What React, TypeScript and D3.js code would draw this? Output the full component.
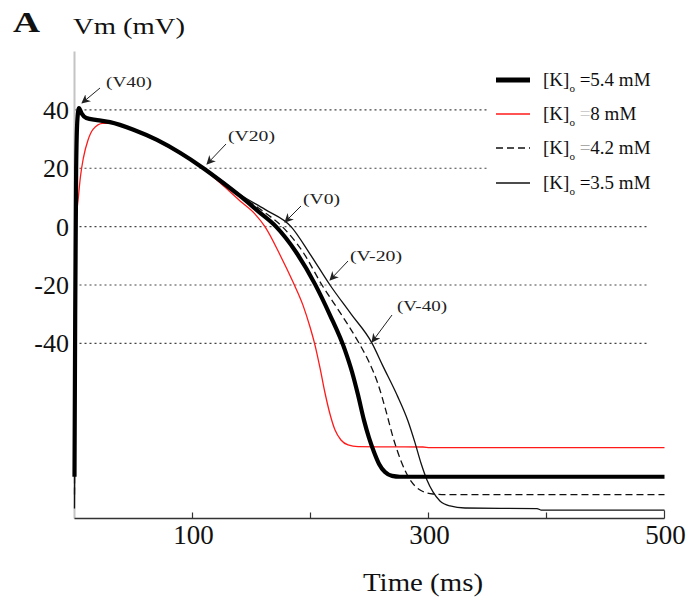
import React from "react";
import * as d3 from "d3";

// ---- data (time in ms, membrane potential in mV) ----
const t54 = [0, 0.6, 1.4, 2.5, 3.8, 6, 10, 19.1, 30.1, 50, 69.9, 89.4, 108.9, 125, 140.3, 155.5, 170.8, 187.7, 203.8, 216.5, 229.2, 235.2, 240.3, 245.3, 249.6, 253.8, 258.1, 263.1, 269.1, 275.8, 300, 500];
const v54 = [-85.7, -30, 20, 37, 40.6, 38.8, 37.2, 36.5, 35.8, 33.2, 29.7, 25.3, 20.1, 15.3, 10.5, 5.3, 0, -8.7, -19.7, -30.3, -42.3, -49.8, -57.7, -66.3, -72.4, -77.2, -81.3, -84.1, -85.4, -85.7, -85.7, -85.7];

const t8 = [0, 0.4, 1.5, 3.2, 5, 7.5, 11.4, 15.7, 24, 33, 50, 69.9, 89.4, 108.9, 123.3, 140.3, 153, 161.4, 174.2, 185.2, 193.6, 199.6, 203.8, 208.1, 212.3, 216.5, 220.8, 225.8, 231.8, 240.3, 295.3, 301.3, 500];
const v8 = [-75.5, -17.6, 2, 9.7, 17, 23.5, 29.6, 33.3, 35.4, 35.4, 33, 29.4, 25, 19.8, 15, 8.8, 4.3, 0, -9.7, -19, -26.9, -34.4, -40.6, -48.5, -57, -64.2, -69.7, -73.1, -74.8, -75.4, -75.5, -75.7, -75.7];

const t42 = [0, 0.6, 1.4, 2.5, 3.8, 6, 10, 19.1, 30.1, 50, 69.9, 89.4, 108.9, 125, 140.3, 159, 176, 193.6, 209.7, 225.8, 241.1, 249.6, 257.2, 264, 269.9, 276.7, 285.2, 293.6, 303.8, 314.8, 500];
const v42 = [-91.8, -30, 20, 37, 40.6, 38.8, 37.2, 36.5, 35.8, 33.2, 29.7, 25.3, 20.2, 15.5, 10.7, 5.5, 0, -8.7, -20, -29.9, -39.9, -46.4, -53.9, -63.2, -72.1, -80.3, -87.2, -90.4, -91.6, -91.8, -91.8];

const t35 = [0, 0.6, 1.4, 2.5, 3.8, 6, 10, 19.1, 30.1, 50, 69.9, 89.4, 108.9, 125, 140.3, 161.4, 183.5, 199.6, 216.5, 234.3, 252.1, 261.4, 273.3, 282.6, 288.6, 293.6, 298.7, 303.8, 309.7, 318.2, 330.9, 392, 395.3, 500];
const v35 = [-96.6, -30, 20, 37, 40.6, 38.8, 37.2, 36.5, 35.8, 33.2, 29.7, 25.3, 20.3, 15.7, 11, 5.9, 0, -9.4, -20, -29.9, -39.9, -47.8, -57.7, -66.6, -74.1, -81, -86.8, -90.9, -94, -95.7, -96.4, -96.6, -97.1, -97.1];

const yTicks = [40, 20, 0, -20, -40];
const xLabelTicks = [100, 300, 500];
const xMinorTicks = [100, 200, 300, 400];

const legendValues = ["5.4", "8", "4.2", "3.5"];
const annotLabels = ["(V40)", "(V20)", "(V0)", "(V-20)", "(V-40)"];

const W = 694;
const H = 603;

export default function App() {
  const x = d3.scaleLinear().domain([0, 500]).range([74.5, 664.5]);
  const y = d3.scaleLinear().domain([-100, 60]).range([518.5, 51.5]);

  const line = d3
    .line<[number, number]>()
    .x((d) => x(d[0]))
    .y((d) => y(d[1]))
    .curve(d3.curveMonotoneX);

  const mk = (ts: number[], vs: number[]) => line(ts.map((t, i) => [t, vs[i]] as [number, number])) || "";

  const font = "'Liberation Serif', 'Times New Roman', serif";

  const series = [
    { d: mk(t8, v8), stroke: "#ff1a1a", w: 1.3, dash: undefined as string | undefined },
    { d: mk(t35, v35), stroke: "#111", w: 1.3, dash: undefined },
    { d: mk(t42, v42), stroke: "#111", w: 1.3, dash: "7,4" },
    { d: mk(t54, v54), stroke: "#000", w: 4.2, dash: undefined },
  ];

  const annots = [
    { tx: 106, ty: 87, len: 46, x1: 100, y1: 88, x2: 82, y2: 103 },
    { tx: 228, ty: 141, len: 47, x1: 226, y1: 144, x2: 207, y2: 164 },
    { tx: 303, ty: 204, len: 37, x1: 301, y1: 206, x2: 285, y2: 222 },
    { tx: 350, ty: 261, len: 52, x1: 348, y1: 261, x2: 330, y2: 280 },
    { tx: 397, ty: 311, len: 50, x1: 392, y1: 315, x2: 372, y2: 342 },
  ];

  const legendY = [80, 114, 148, 183];
  const legendStyles = [
    { stroke: "#000", w: 5, dash: undefined as string | undefined },
    { stroke: "#ff1a1a", w: 1.3, dash: undefined },
    { stroke: "#111", w: 1.3, dash: "7,4" },
    { stroke: "#111", w: 1.3, dash: undefined },
  ];
  const eqColor = ["#000", "#ccc", "#aaa", "#000"];

  return (
    <svg
      width={W}
      height={H}
      viewBox={`0 0 ${W} ${H}`}
      style={{ position: "absolute", left: 0, top: 0, background: "#fff" }}
      fontFamily={font}
    >
      <defs>
        <marker id="arr" viewBox="0 0 10 10" refX="9" refY="5" markerWidth="9" markerHeight="9" orient="auto-start-reverse" markerUnits="userSpaceOnUse">
          <path d="M0,0 L10,5 L0,10 L3,5 Z" fill="#222" />
        </marker>
      </defs>

      {/* gridlines */}
      {yTicks.map((v) => (
        <line key={v} x1={x(0)} x2={648} y1={y(v)} y2={y(v)} stroke="#444" strokeWidth={1.2} strokeDasharray="2,3" />
      ))}

      {/* legend background hides gridlines */}
      <rect x={487} y={62} width={180} height={138} fill="#fff" />

      {/* axes */}
      <line x1={x(0)} x2={x(0)} y1={y(60)} y2={y(-100)} stroke="#c4c4c4" strokeWidth={2} />
      <line x1={x(0)} x2={x(500)} y1={y(-100)} y2={y(-100)} stroke="#333" strokeWidth={1.5} />
      {xMinorTicks.map((t) => (
        <line key={t} x1={x(t)} x2={x(t)} y1={y(-100)} y2={y(-100) - 6} stroke="#333" strokeWidth={1.2} />
      ))}
      <line x1={x(500)} x2={x(500)} y1={y(-100)} y2={y(-100) - 8} stroke="#333" strokeWidth={1.2} />

      {/* curves */}
      {series.map((s, i) => (
        <path key={i} d={s.d} fill="none" stroke={s.stroke} strokeWidth={s.w} strokeDasharray={s.dash} strokeLinejoin="round" />
      ))}

      {/* y tick labels */}
      {yTicks.map((v) => (
        <text key={v} x={69} y={y(v)} dy="0.35em" fontSize={26} textAnchor="end" fill="#111">
          {v}
        </text>
      ))}
      {/* x tick labels */}
      {xLabelTicks.map((t) => (
        <text key={t} x={x(t) + 1} y={544} fontSize={27} textAnchor="middle" fill="#111">
          {t}
        </text>
      ))}

      {/* titles */}
      <text x={13} y={32} fontSize={30} fontWeight="bold" textLength={27} lengthAdjust="spacingAndGlyphs" fill="#111">A</text>
      <text x={73} y={34} fontSize={24} textLength={112} lengthAdjust="spacingAndGlyphs" fill="#111">Vm (mV)</text>
      <text x={363} y={591} fontSize={25} textLength={120} lengthAdjust="spacingAndGlyphs" fill="#111">Time (ms)</text>

      {/* annotations */}
      {annots.map((a, i) => (
        <g key={i}>
          <text x={a.tx} y={a.ty} fontSize={15} textLength={a.len} lengthAdjust="spacingAndGlyphs" fill="#222">
            {annotLabels[i]}
          </text>
          <line x1={a.x1} y1={a.y1} x2={a.x2} y2={a.y2} stroke="#222" strokeWidth={1} markerEnd="url(#arr)" />
        </g>
      ))}

      {/* legend */}
      {legendValues.map((val, i) => {
        const ly = legendY[i];
        const st = legendStyles[i];
        return (
          <g key={val}>
            <line x1={496} x2={530} y1={ly} y2={ly} stroke={st.stroke} strokeWidth={st.w} strokeDasharray={st.dash} />
            <text x={543} y={ly + 6} fontSize={19} fill="#111">
              <tspan>[K]</tspan>
              <tspan fontSize={11} dy={6}>o</tspan>
              <tspan dy={-6} fill={eqColor[i]}> =</tspan>
              <tspan>{val} mM</tspan>
            </text>
          </g>
        );
      })}
    </svg>
  );
}
